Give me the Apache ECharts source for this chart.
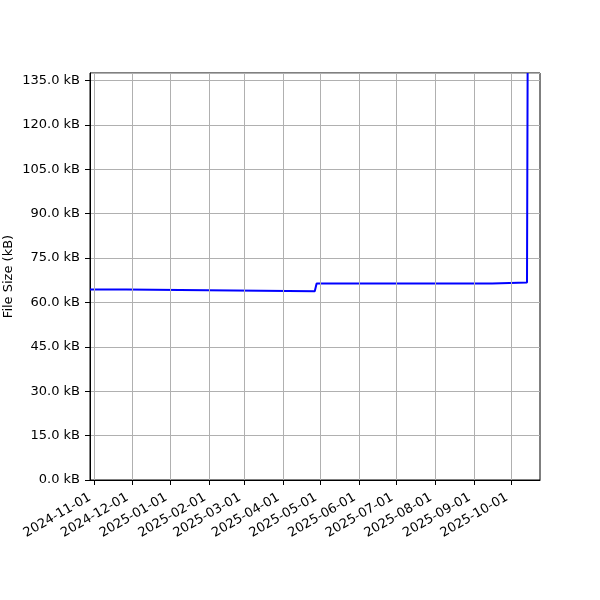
<!DOCTYPE html>
<html>
<head>
<meta charset="utf-8">
<script src="https://cdn.jsdelivr.net/npm/echarts@6/dist/echarts.min.js"></script>
<style>html,body{margin:0;padding:0;background:#fff}#c{width:600px;height:600px}</style>
</head>
<body>
<div id="c"></div>
<script>
const dates = ['2024-10-28T12:00:00','2024-11-26T12:00:00','2024-11-27T00:00:00','2025-04-26T12:00:00','2025-04-28T00:00:00','2025-09-15T12:00:00','2025-09-16T00:00:00','2025-10-13T12:00:00','2025-10-14T00:00:00'];
const sizes = [64.4, 64.4, 63.8, 63.8, 66.4, 66.4, 66.7, 66.7, 137.5];
const tickLabels = ['2024-11-01','2024-12-01','2025-01-01','2025-02-01','2025-03-01','2025-04-01','2025-05-01','2025-06-01','2025-07-01','2025-08-01','2025-09-01','2025-10-01'];
const xMin = '2024-10-28T12:00:00';
const xMax = '2025-10-23T22:00:00';
const yMax = 137.5;

const ts = s => new Date(s).getTime();
const tickVals = tickLabels.map(s => ts(s + 'T00:00:00'));
const pad = n => (n < 10 ? '0' : '') + n;
const fmt = v => { const d = new Date(v); return d.getFullYear() + '-' + pad(d.getMonth() + 1) + '-' + pad(d.getDate()); };

const chart = echarts.init(document.getElementById('c'), null, {renderer: 'canvas'});
const font = 'DejaVu Sans';
chart.setOption({
  animation: false,
  backgroundColor: '#fff',
  grid: {left: 90, right: 60, top: 73, bottom: 120, containLabel: false, outerBoundsMode: 'none', show: true, borderColor: '#000', borderWidth: 1, backgroundColor: 'transparent'},
  xAxis: {
    type: 'value',
    min: ts(xMin), max: ts(xMax),
    axisLine: {show: true, lineStyle: {color: '#000', width: 1}},
    axisTick: {show: true, customValues: tickVals, length: 5, lineStyle: {color: '#000'}},
    axisLabel: {customValues: tickVals, formatter: v => fmt(v), rotate: 30, color: '#000', fontFamily: font, fontSize: 13, margin: 14, padding: [0, 5, 0, 0], hideOverlap: false},
    splitLine: {show: false}
  },
  yAxis: {
    type: 'value', min: 0, max: yMax, interval: 15,
    name: 'File Size (kB)', nameLocation: 'middle', nameGap: 75, nameRotate: 90, nameMoveOverlap: false,
    nameTextStyle: {color: '#000', fontFamily: font, fontSize: 13},
    axisLine: {show: true, lineStyle: {color: '#000', width: 1}},
    axisTick: {show: true, length: 5, lineStyle: {color: '#000'}},
    axisLabel: {formatter: v => v.toFixed(1) + ' kB', color: '#000', fontFamily: font, fontSize: 13, margin: 10, showMaxLabel: false},
    splitLine: {show: true, lineStyle: {color: '#b0b0b0', width: 1}}
  },
  series: [{
    type: 'line',
    data: dates.map((d, i) => [ts(d), sizes[i]]),
    showSymbol: false,
    lineStyle: {color: '#0000ff', width: 2},
    itemStyle: {color: '#0000ff'},
    clip: true,
    z: 3,
    markLine: {
      silent: true, symbol: 'none', label: {show: false}, animation: false,
      lineStyle: {color: '#b0b0b0', width: 1, type: 'solid'},
      data: tickVals.map(v => ({xAxis: v}))
    }
  }]
});
</script>
</body>
</html>
